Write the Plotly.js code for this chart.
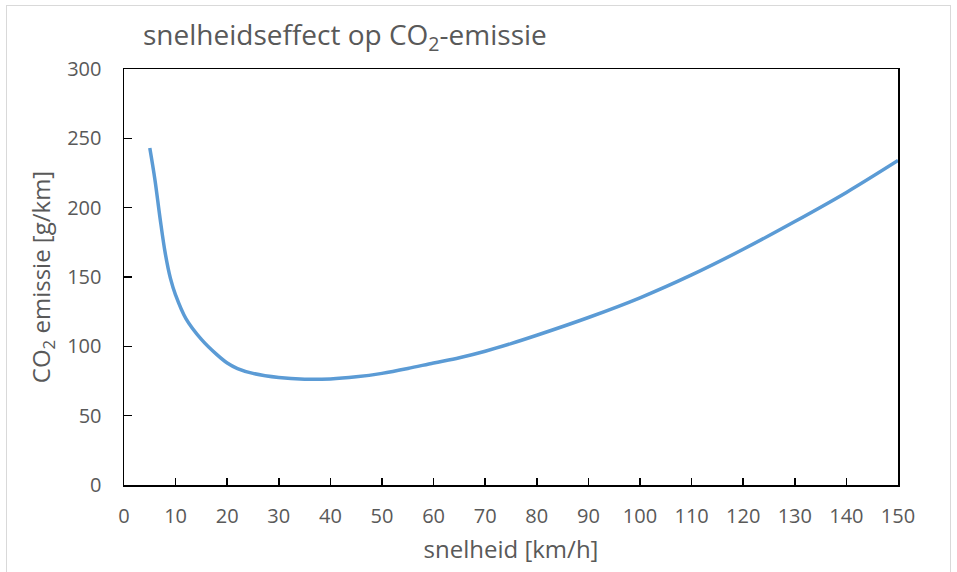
<!DOCTYPE html>
<html>
<head>
<meta charset="utf-8">
<script src="https://cdn.plot.ly/plotly-3.0.1.min.js"></script>
<style>
  html, body { margin: 0; padding: 0; background: #fff; }
  #wrap { position: relative; width: 957px; height: 572px; overflow: hidden; }
  #frame { position: absolute; left: 6px; top: 5px; width: 945px; height: 600px; border: 1.5px solid #d9d9d9; box-sizing: border-box; pointer-events: none; }
  #chart { position: absolute; left: 0; top: 0; width: 957px; height: 572px; }
</style>
</head>
<body>
<div id="wrap">
  <div id="chart"></div>
  <div id="frame"></div>
</div>
<script>
// snelheid [km/h]
const speed = [5, 6, 7, 8, 9, 10, 12, 15, 18, 20, 22, 25, 30, 35, 40, 45, 50, 55, 60, 65, 70, 75, 80, 90, 100, 110, 120, 130, 140, 150];
// CO2 emissie [g/km]
const emission = [243, 220, 192, 167, 149, 137, 120, 105, 94, 88, 84, 80.5, 77.5, 76.3, 76.5, 78, 80.5, 84, 88, 91.8, 96.5, 102, 108, 120.8, 135, 151.5, 170, 190, 211, 234];

const xTicks = [0, 10, 20, 30, 40, 50, 60, 70, 80, 90, 100, 110, 120, 130, 140, 150];
const yTicks = [0, 50, 100, 150, 200, 250, 300];

const fontFam = '"Open Sans", sans-serif';
const grey = '#595959';

const trace = {
  x: speed,
  y: emission,
  type: 'scatter',
  mode: 'lines',
  line: { color: '#5B9BD5', width: 3.5, shape: 'spline', smoothing: 1 },
  hoverinfo: 'x+y'
};

const layout = {
  width: 957,
  height: 572,
  margin: { l: 124, r: 59, t: 69, b: 87 },
  paper_bgcolor: 'rgba(0,0,0,0)',
  plot_bgcolor: '#ffffff',
  showlegend: false,
  font: { family: fontFam, color: grey, size: 20 },
  title: {
    text: 'snelheidseffect op CO<sub>2</sub>-emissie',
    font: { family: fontFam, size: 28, color: grey },
    x: 143 / 957, xanchor: 'left', xref: 'container',
    y: 1 - 35 / 572, yanchor: 'middle', yref: 'container'
  },
  xaxis: {
    range: [0, 150],
    tickvals: xTicks,
    ticktext: xTicks.map(String),
    ticks: 'inside', ticklen: 7, tickwidth: 1.5, tickcolor: '#000',
    showline: true, linecolor: '#000', linewidth: 1.5, mirror: true,
    showgrid: false, zeroline: false,
    tickfont: { family: fontFam, size: 20, color: grey },
    ticklabelstandoff: 12,
    title: { text: 'snelheid [km/h]', font: { family: fontFam, size: 24, color: grey }, standoff: 13 }
  },
  yaxis: {
    range: [0, 300],
    tickvals: yTicks,
    ticktext: yTicks.map(String),
    ticks: 'inside', ticklen: 8, tickwidth: 1.5, tickcolor: '#000',
    showline: true, linecolor: '#000', linewidth: 1.5, mirror: true,
    showgrid: false, zeroline: false,
    tickfont: { family: fontFam, size: 20, color: grey },
    ticklabelstandoff: 17,
    title: { text: 'CO<sub>2</sub> emissie [g/km]', font: { family: fontFam, size: 24, color: grey }, standoff: 10 }
  }
};

Plotly.newPlot('chart', [trace], layout, { displayModeBar: false, staticPlot: true });
</script>
</body>
</html>
